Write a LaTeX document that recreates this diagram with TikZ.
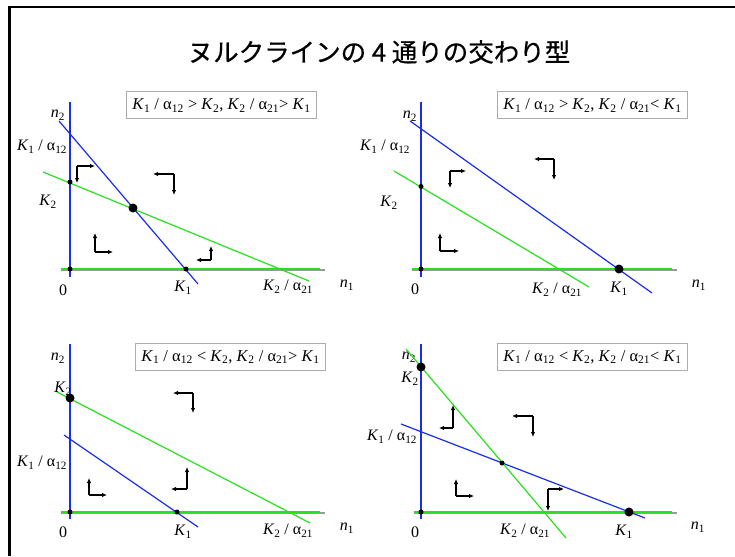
\documentclass[tikz,border=0pt]{standalone}
\usepackage{fontspec}
\setmainfont{Liberation Serif}
\newfontfamily\jpfont[FakeBold=0.6]{Noto Sans CJK JP}
\usetikzlibrary{arrows.meta}
\definecolor{nblue}{RGB}{25,45,235}
\definecolor{ngreen}{RGB}{40,225,30}
\newcommand\Kk[1]{\textit{K}\textsubscript{#1}}
\newcommand\al[1]{α\textsubscript{#1}}
\newcommand\nn[1]{\textit{n}\textsubscript{#1}}
\begin{document}
\begin{tikzpicture}[x=1pt,y=-1pt,
  frameline/.style={line width=2.6pt,black},
  grayaxis/.style={line width=2pt,gray!80},
  baxis/.style={line width=2.2pt,nblue},
  gaxis/.style={line width=2.2pt,ngreen},
  bline/.style={line width=1.2pt,nblue},
  gline/.style={line width=1.2pt,ngreen},
  flow/.style={line width=1.1pt,black,-{Latex[length=5pt,width=4.5pt]}},
  sdot/.style={circle,fill=black,inner sep=0pt,minimum size=5pt},
  bdot/.style={circle,fill=black,inner sep=0pt,minimum size=9pt},
  lab/.style={font=\fontsize{16}{18}\selectfont,inner sep=0pt},
  cond/.style={draw=gray!65,line width=1pt,fill=white,font=\fontsize{16.5}{18}\selectfont,minimum height=27pt,inner xsep=6pt},
  title/.style={font=\jpfont\fontsize{25.5}{30}\selectfont}]
\useasboundingbox (0,0) rectangle (735,556);
\coordinate (fbl) at (9.5,556);
\coordinate (ftl) at (9.5,7);
\coordinate (ftr) at (735,7);
\draw[frameline] (fbl) -- (ftl) -- (ftr);
\node[title] (ttl) at (379,52) {ヌルクラインの 4 通りの交わり型};

% ---------- Panel 1 ----------
\coordinate (a1) at (61,270); \coordinate (a1e) at (325,270);
\draw[grayaxis] (a1) -- (a1e);
\coordinate (g1a) at (61,269); \coordinate (g1b) at (320,269);
\draw[gaxis] (g1a) -- (g1b);
\coordinate (v1a) at (70,102); \coordinate (v1b) at (70,277);
\draw[baxis] (v1a) -- (v1b);
\coordinate (bl1a) at (59,121); \coordinate (bl1b) at (198,284);
\draw[bline] (bl1a) -- (bl1b);
\coordinate (gl1a) at (43,172); \coordinate (gl1b) at (309,281);
\draw[gline] (gl1a) -- (gl1b);
\node[sdot] (p1o) at (70,269) {};
\node[sdot] (p1k2) at (70,182) {};
\node[sdot] (p1k1) at (186,269) {};
\node[bdot] (p1eq) at (133,208) {};
\node[cond] (c1) at (221.5,105.5) {\Kk1 / \al{12} > \Kk2, \Kk2 / \al{21}> \Kk1};
\node[lab] (n21) at (58,115) {\nn2};
\node[lab] (ka1) at (42,147) {\Kk1 / \al{12}};
\node[lab] (k21) at (48,202) {\Kk2};
\node[lab] (z1) at (63,290) {0};
\node[lab] (k11) at (183,288) {\Kk1};
\node[lab] (kb1) at (288,287) {\Kk2 / \al{21}};
\node[lab] (n11) at (347,285) {\nn1};
\coordinate (r1c) at (77,166); \coordinate (r1h) at (95,166); \coordinate (r1v) at (77,183);
\draw[flow] (r1c) -- (r1h); \draw[flow] (r1c) -- (r1v);
\coordinate (r2c) at (174,174); \coordinate (r2h) at (153,174); \coordinate (r2v) at (174,195);
\draw[flow] (r2c) -- (r2h); \draw[flow] (r2c) -- (r2v);
\coordinate (r3c) at (95,252); \coordinate (r3h) at (113,252); \coordinate (r3v) at (95,233);
\draw[flow] (r3c) -- (r3h); \draw[flow] (r3c) -- (r3v);
\coordinate (r4c) at (211,260); \coordinate (r4h) at (196,260); \coordinate (r4v) at (211,246);
\draw[flow] (r4c) -- (r4h); \draw[flow] (r4c) -- (r4v);

% ---------- Panel 2 ----------
\coordinate (a2) at (412,270); \coordinate (a2e) at (677,270);
\draw[grayaxis] (a2) -- (a2e);
\coordinate (g2a) at (412,269); \coordinate (g2b) at (672,269);
\draw[gaxis] (g2a) -- (g2b);
\coordinate (v2a) at (421,102); \coordinate (v2b) at (421,277);
\draw[line width=1.4pt,nblue] (v2a) -- (v2b);
\coordinate (bl2a) at (410,121); \coordinate (bl2b) at (652,293);
\draw[bline] (bl2a) -- (bl2b);
\coordinate (gl2a) at (394,171); \coordinate (gl2b) at (589,287);
\draw[gline] (gl2a) -- (gl2b);
\node[sdot] (p2o) at (421,269) {};
\node[sdot] (p2k2) at (421,186.5) {};
\node[bdot] (p2k1) at (619,269) {};
\node[cond] (c2) at (592.5,105.5) {\Kk1 / \al{12} > \Kk2, \Kk2 / \al{21}< \Kk1};
\node[lab] (n22) at (410,116) {\nn2};
\node[lab] (ka2) at (385,147) {\Kk1 / \al{12}};
\node[lab] (k22) at (389,203) {\Kk2};
\node[lab] (z2) at (415,289) {0};
\node[lab] (kb2) at (557,290) {\Kk2 / \al{21}};
\node[lab] (k12) at (619,289) {\Kk1};
\node[lab] (n12) at (699,285) {\nn1};
\coordinate (s1c) at (450,171); \coordinate (s1h) at (466,171); \coordinate (s1v) at (450,188);
\draw[flow] (s1c) -- (s1h); \draw[flow] (s1c) -- (s1v);
\coordinate (s2c) at (554,159); \coordinate (s2h) at (534,159); \coordinate (s2v) at (554,180);
\draw[flow] (s2c) -- (s2h); \draw[flow] (s2c) -- (s2v);
\coordinate (s3c) at (440,251); \coordinate (s3h) at (459,251); \coordinate (s3v) at (440,233);
\draw[flow] (s3c) -- (s3h); \draw[flow] (s3c) -- (s3v);

% ---------- Panel 3 ----------
\coordinate (a3) at (61,513); \coordinate (a3e) at (325,513);
\draw[grayaxis] (a3) -- (a3e);
\coordinate (g3a) at (61,512); \coordinate (g3b) at (320,512);
\draw[gaxis] (g3a) -- (g3b);
\coordinate (v3a) at (70,344); \coordinate (v3b) at (70,519);
\draw[baxis] (v3a) -- (v3b);
\coordinate (gl3a) at (57,392); \coordinate (gl3b) at (310,523);
\draw[gline] (gl3a) -- (gl3b);
\coordinate (bl3a) at (64,435); \coordinate (bl3b) at (198,527);
\draw[bline] (bl3a) -- (bl3b);
\node[sdot] (p3o) at (70,512) {};
\node[sdot] (p3k1) at (177,512) {};
\node[cond] (c3) at (230.5,357) {\Kk1 / \al{12} < \Kk2, \Kk2 / \al{21}> \Kk1};
\node[lab] (n23) at (58,358) {\nn2};
\node[lab] (k23) at (63,389) {\Kk2};
\node[bdot] (p3k2) at (70,398) {};
\node[lab] (ka3) at (42,463) {\Kk1 / \al{12}};
\node[lab] (z3) at (63,532) {0};
\node[lab] (k13) at (183,532) {\Kk1};
\node[lab] (kb3) at (288,531) {\Kk2 / \al{21}};
\node[lab] (n13) at (347,528) {\nn1};
\coordinate (t1c) at (193,393); \coordinate (t1h) at (173,393); \coordinate (t1v) at (193,413);
\draw[flow] (t1c) -- (t1h); \draw[flow] (t1c) -- (t1v);
\coordinate (t2c) at (187,489); \coordinate (t2h) at (171,489); \coordinate (t2v) at (187,467);
\draw[flow] (t2c) -- (t2h); \draw[flow] (t2c) -- (t2v);
\coordinate (t3c) at (89,495); \coordinate (t3h) at (107,495); \coordinate (t3v) at (89,478);
\draw[flow] (t3c) -- (t3h); \draw[flow] (t3c) -- (t3v);

% ---------- Panel 4 ----------
\coordinate (a4) at (414,513); \coordinate (a4e) at (677,513);
\draw[grayaxis] (a4) -- (a4e);
\coordinate (g4a) at (414,512); \coordinate (g4b) at (672,512);
\draw[gaxis] (g4a) -- (g4b);
\coordinate (v4a) at (421,344); \coordinate (v4b) at (421,519);
\draw[line width=1.4pt,nblue] (v4a) -- (v4b);
\coordinate (gl4a) at (406,349); \coordinate (gl4b) at (566,538);
\coordinate (bl4a) at (401,424); \coordinate (bl4b) at (645,518);
\draw[bline] (bl4a) -- (bl4b);
\node[lab] (n24) at (409,357) {\nn2};
\draw[gline] (gl4a) -- (gl4b);
\node[sdot] (p4o) at (421,512) {};
\node[sdot] (p4eq) at (502,463) {};
\node[bdot] (p4k2) at (421,367) {};
\node[bdot] (p4k1) at (629,512) {};
\node[cond] (c4) at (592.5,357) {\Kk1 / \al{12} < \Kk2, \Kk2 / \al{21}< \Kk1};
\node[lab] (k24) at (410,379) {\Kk2};
\node[lab] (ka4) at (392,437) {\Kk1 / \al{12}};
\node[lab] (z4) at (415,532) {0};
\node[lab] (kb4) at (525,531) {\Kk2 / \al{21}};
\node[lab] (k14) at (624,532) {\Kk1};
\node[lab] (n14) at (698,527) {\nn1};
\coordinate (u1c) at (453,428); \coordinate (u1h) at (439,428); \coordinate (u1v) at (453,405);
\draw[flow] (u1c) -- (u1h); \draw[flow] (u1c) -- (u1v);
\coordinate (u2c) at (533,416); \coordinate (u2h) at (512,416); \coordinate (u2v) at (533,437);
\draw[flow] (u2c) -- (u2h); \draw[flow] (u2c) -- (u2v);
\coordinate (u3c) at (456,496); \coordinate (u3h) at (474,496); \coordinate (u3v) at (456,479);
\draw[flow] (u3c) -- (u3h); \draw[flow] (u3c) -- (u3v);
\coordinate (u4c) at (548,489); \coordinate (u4h) at (564,489); \coordinate (u4v) at (548,511);
\draw[flow] (u4c) -- (u4h); \draw[flow] (u4c) -- (u4v);
\end{tikzpicture}
\end{document}
